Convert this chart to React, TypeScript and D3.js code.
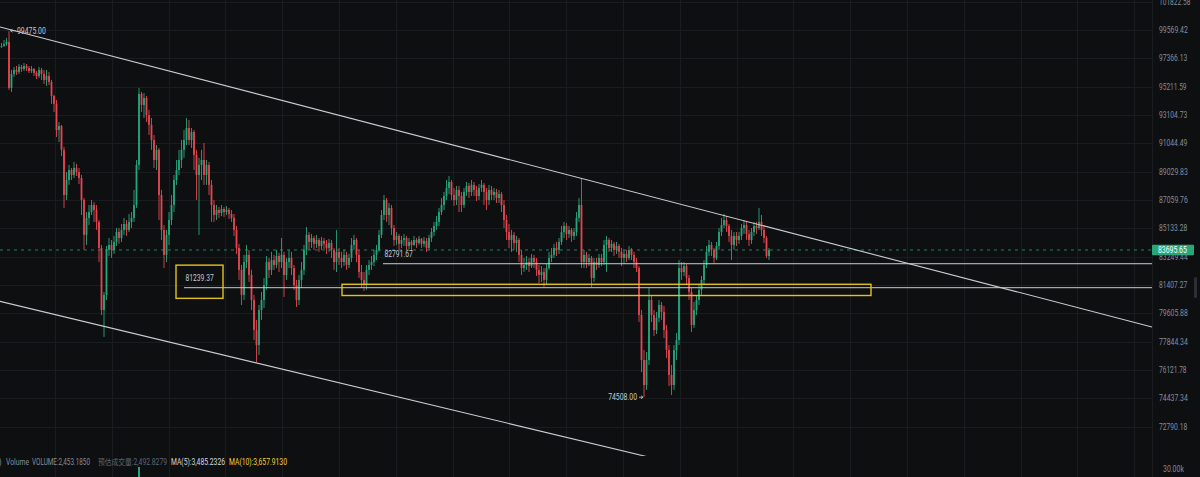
import React, { useEffect } from 'react';
import * as d3 from 'd3';

const W = 1200;
const H = 477;
const PLOT_RIGHT = 1152;
const PANE_BOTTOM = 456;

// ---- price data (open of each candle = previous close) ----
const firstOpen = 98250;
const closes = [
  98330, 98480, 98640, 95120, 96170, 96480, 96330, 96710, 96550, 96780,
  96630, 96400, 96550, 96250, 96020, 96480, 96170, 95720, 96020, 95570,
  94520, 93930, 92010, 92300, 90580, 87410, 88450, 89150, 88800, 89300,
  89010, 88590, 87060, 84700, 85840, 86240, 86720, 86380, 85570, 83830,
  79820, 80780, 83700, 84030, 83700, 84230, 84890, 84490, 85030, 85430,
  85030, 85570, 85840, 86720, 89510, 94670, 93850, 94370, 93110, 92380,
  91290, 89860, 90580, 87410, 85030, 83370, 84700, 85700, 86720, 88450,
  89150, 89860, 90580, 91290, 92160, 91290, 91870, 90220, 88800, 89510,
  89860, 88800, 89510, 88110, 86720, 86040, 86380, 86180, 86450, 86240,
  86380, 86110, 85840, 85030, 83830, 82390, 80780, 82900, 83370, 82060,
  80460, 78570, 77640, 79820, 80460, 81410, 82900, 82390, 83030, 82710,
  83300, 82900, 83370, 82060, 82900, 83170, 82510, 81410, 80460, 81740,
  82390, 83700, 84700, 84230, 84490, 84100, 84360, 83960, 84300, 84100,
  83830, 84160, 83700, 82900, 83570, 83170, 82900, 83370, 82710, 83170,
  84030, 84360, 83370, 82250, 81740, 81410, 82390, 82710, 82900, 83370,
  83700, 84700, 86040, 87060, 86040, 86520, 85160, 84360, 84630, 84100,
  84360, 84490, 83960, 84230, 84030, 84360, 84160, 84430, 84100, 84300,
  83830, 84490, 84890, 85300, 85570, 86240, 86720, 87340, 87900, 88310,
  87410, 87060, 87760, 87340, 86720, 87620, 88040, 87620, 88110, 87760,
  87340, 87900, 88110, 87620, 87060, 87760, 87410, 87620, 87200, 87480,
  86720, 85700, 84890, 84360, 84700, 84160, 84360, 83370, 82510, 82710,
  82900, 82640, 83170, 82900, 82390, 82060, 82250, 81740, 82510, 83170,
  83370, 83830, 83700, 84230, 84890, 85300, 84760, 85030, 84630, 84890,
  85840, 86720, 82900, 83370, 82900, 83170, 81870, 82900, 82710, 83170,
  82900, 84030, 84360, 83830, 84100, 83700, 83960, 83570, 83170, 83430,
  83170, 83700, 83370, 82900, 82510, 79510, 76730, 75230, 76730, 80460,
  79510, 78570, 79320, 80140, 79700, 78570, 77340, 75830, 75230, 77340,
  77950, 82510, 82250, 82640, 81870, 80970, 78880, 79820, 80460, 81100,
  81740, 82710, 83570, 84030, 83700, 83170, 83960, 84890, 85360, 85700,
  85300, 84630, 84030, 84630, 84360, 84630, 85160, 85360, 84760, 84360,
  84890, 85300, 85160, 85570, 85030, 84490, 83300, 83695.65,
];
const highs = [
  98560, 98790, 98950, 99475, 96480, 96710, 96780, 96930, 96860, 97010,
  96930, 96780, 96780, 96630, 96400, 96710, 96630, 96480, 96480, 96330,
  95720, 94600, 94220, 92590, 92380, 90790, 89010, 89510, 89290, 89720,
  89580, 89290, 88800, 87200, 86240, 86720, 87060, 86920, 86720, 85700,
  84030, 80970, 83960, 84490, 84360, 84630, 85160, 85160, 85430, 85840,
  85700, 86110, 86240, 87760, 89860, 95120, 94820, 94740, 94520, 93480,
  92890, 91650, 90930, 90720, 87760, 85360, 85030, 86240, 87410, 88800,
  89860, 90580, 91290, 92010, 92890, 92740, 92160, 92010, 90580, 90010,
  90580, 91070, 89860, 89720, 88450, 87060, 86720, 86580, 86720, 86580,
  86650, 86520, 86380, 86110, 85300, 84100, 82710, 83370, 84030, 83700,
  82390, 80780, 79200, 80140, 80970, 81870, 83300, 83170, 83570, 83370,
  83700, 83500, 84490, 83570, 83170, 83700, 83570, 82710, 81740, 82060,
  82900, 84030, 85230, 84890, 84760, 84630, 84700, 84490, 84560, 84490,
  84360, 84430, 84360, 83830, 85030, 83830, 83570, 83700, 83570, 83430,
  84490, 84700, 84490, 83700, 82710, 82250, 82710, 83030, 83300, 83700,
  84030, 85030, 86380, 87410, 87200, 86860, 86720, 85360, 84890, 84760,
  84630, 84760, 84630, 84490, 84360, 84630, 84490, 84630, 84490, 84560,
  84490, 84700, 85160, 85570, 85970, 86520, 87200, 87620, 88450, 88730,
  88450, 87900, 88040, 88040, 87620, 87900, 88310, 88240, 88450, 88310,
  88040, 88170, 88450, 88240, 87900, 88110, 88040, 87900, 87830, 87760,
  87620, 87060, 86040, 85430, 85030, 84890, 84630, 84490, 83700, 83170,
  83300, 83170, 83430, 83370, 83170, 82710, 82640, 82510, 82770, 83570,
  83830, 84100, 84230, 84490, 85300, 85570, 85500, 85300, 85160, 85160,
  86240, 87200, 88590, 83700, 83570, 83430, 83300, 83170, 83170, 83430,
  83430, 84360, 84630, 84490, 84360, 84230, 84230, 84100, 83830, 83700,
  83700, 83960, 83830, 83570, 83170, 82640, 79820, 77340, 77220, 81220,
  80710, 79820, 79700, 80460, 80330, 80080, 78880, 77640, 76430, 77640,
  78390, 83030, 82900, 82900, 82770, 82060, 81220, 80330, 80710, 81480,
  82000, 83030, 83960, 84360, 84230, 83830, 84230, 85160, 85840, 86110,
  85970, 85430, 85030, 84890, 84890, 84890, 85430, 85700, 85570, 85030,
  85160, 85570, 85570, 86520, 86040, 85300, 84630, 83830,
];
const lows = [
  98170, 98250, 98330, 94970, 94820, 95950, 96100, 96170, 96330, 96400,
  96400, 96250, 96250, 96020, 95790, 95870, 95720, 95420, 95270, 95340,
  93930, 93330, 91500, 91140, 90150, 86520, 87060, 88110, 88450, 88590,
  88730, 88170, 86040, 83700, 84030, 85360, 86040, 85570, 85030, 82900,
  79510, 78140, 80460, 83300, 83170, 83430, 83960, 84100, 84230, 84700,
  84630, 84890, 85160, 85570, 86520, 89150, 93330, 92890, 92600, 91650,
  90580, 89290, 89150, 85700, 84360, 82510, 82900, 84030, 85360, 86240,
  88110, 88800, 89290, 90010, 90930, 90930, 90720, 89150, 87060, 84700,
  88450, 88110, 88110, 87410, 85570, 85570, 85700, 85840, 85970, 85910,
  86040, 85770, 85570, 84630, 83430, 81740, 80140, 80460, 82510, 81610,
  79820, 77950, 76610, 77040, 79200, 79950, 81100, 81870, 82060, 82390,
  82510, 82250, 82510, 80650, 81740, 82510, 82060, 81100, 80010, 80140,
  81220, 82060, 83370, 83700, 83830, 83700, 83830, 83570, 83700, 83760,
  83430, 83570, 83170, 82390, 82250, 82710, 82510, 82640, 82390, 82510,
  82900, 83700, 82900, 81870, 81220, 81030, 81100, 82060, 82390, 82640,
  83030, 83570, 84490, 85700, 85570, 85360, 84700, 83960, 84030, 83700,
  83830, 83960, 83700, 83760, 83700, 83960, 83830, 84030, 83830, 83900,
  83570, 83700, 84230, 84630, 85030, 85300, 86040, 86380, 87060, 87480,
  87060, 86650, 86720, 86240, 86240, 86520, 87340, 87200, 87340, 87340,
  86990, 87060, 87620, 86720, 86380, 86720, 87060, 87060, 86860, 86860,
  86240, 85160, 84360, 83830, 83570, 83700, 83570, 82900, 82060, 82250,
  82390, 82250, 82510, 82510, 81990, 81540, 81610, 81290, 81410, 82390,
  82900, 83170, 83300, 83430, 84030, 84490, 84360, 84490, 84230, 84360,
  84630, 85570, 82510, 82510, 82510, 82640, 81290, 81610, 82390, 82510,
  82640, 82710, 82250, 83570, 83570, 83300, 83430, 83170, 82640, 82770,
  82900, 83030, 83030, 82510, 82250, 79070, 76000, 74508, 74940, 76430,
  79070, 78200, 78320, 79070, 79200, 78080, 76850, 75170, 74640, 74940,
  76730, 77640, 81740, 81990, 81410, 80460, 78450, 78700, 79510, 80140,
  80780, 81410, 82510, 83300, 83300, 82840, 83030, 83700, 84630, 85160,
  84890, 84230, 83030, 83700, 83960, 84100, 84360, 84760, 84360, 83960,
  84100, 84630, 84760, 85030, 84630, 84160, 83170, 83030,
];

// ---- volume (only the bar tall enough to show in the cropped pane) ----
const volumeBars = [{ index: 55, volume: 31200 }];
const volumeTick = 30000;

// ---- axis ----
const axisTicks = [
  101822.58, 99569.42, 97366.13, 95211.59, 93104.73, 91044.49, 89029.83, 87059.76,
  85133.28, 83249.44, 81407.27, 79605.88, 77844.34, 76121.78, 74437.34, 72790.18,
];

// ---- annotations ----
const lastPrice = 83695.65;
const peakMark = { index: 3, price: 99475.0, label: '99475.00' };
const troughMark = { index: 257, price: 74508.0, label: '74508.00' };
const horizontalLines = [
  { price: 82791.67, fromIndex: 152.6, label: '82791.67' },
  { price: 81239.37, fromIndex: 73.0, label: '81239.37' },
];
const trendLines = [
  { i1: -0.6, p1: 99802, i2: 460.2, p2: 78760 },
  { i1: -0.6, p1: 80365, i2: 258.6, p2: 71080 },
];
const yellowBoxes = [
  { i1: 136.2, i2: 347.8, pTop: 81460, pBottom: 80740 },
  { i1: 69.8, i2: 88.6, pTop: 82700, pBottom: 80560 },
];
const legendItems = [
  { text: ')', color: '#848e9c' },
  { text: 'Volume', color: '#848e9c' },
  { text: 'VOLUME:2,453.1850', color: '#848e9c' },
  { text: '预估成交量:2,492.8279', color: '#5e6673' },
  { text: 'MA(5):3,485.2326', color: '#d6d9de' },
  { text: 'MA(10):3,657.9130', color: '#f0d23c' },
];
const legendX = [-1, 6, 32, 98, 171, 229];
const legendW = [2.5, 23, 58, 69, 54, 58];

const GREEN = '#26a67a';
const RED = '#e5454f';
const BG = '#0e0f11';
const GRID = '#1a1c20';
const FONT = 'Roboto, "Noto Sans", "Noto Sans CJK SC", sans-serif';

// narrow numeric labels (the reference font is condensed)
const numW = (s: string) =>
  s.split('').reduce((a, ch) => a + (ch === '.' || ch === ',' ? 1.9 : ch === '1' ? 3.2 : ch === 'k' ? 3.6 : 3.85), 0);

export default function App() {
  useEffect(() => {
    document.body.style.margin = '0';
    document.body.style.background = BG;
  }, []);

  const n = closes.length;
  const x = d3.scaleLinear().domain([0, n - 1]).range([1.5, 1.5 + 2.5 * (n - 1)]);
  const y = d3.scaleLog().domain([99569.42, 72790.18]).range([30, 426.8]);
  const yVol = d3.scaleLinear().domain([0, volumeTick]).range([520, 469]);

  const opens = closes.map((_, i) => (i === 0 ? firstOpen : closes[i - 1]));
  const gridIdx = d3.range(21.4, 470, 22.72);

  const trendPath = d3.line<[number, number]>().x((d) => x(d[0])).y((d) => y(d[1]));

  const NumText = (p: { x: number; y: number; s: string; fill: string; anchor?: string }) => (
    <text
      x={p.x}
      y={p.y}
      fill={p.fill}
      fontSize={8.6}
      dominantBaseline="central"
      textAnchor={p.anchor || 'start'}
      textLength={numW(p.s)}
      lengthAdjust="spacingAndGlyphs"
    >
      {p.s}
    </text>
  );

  return (
    <div style={{ position: 'fixed', left: 0, top: 0, width: W, height: H, background: BG }}>
      <svg width={W} height={H} style={{ display: 'block', fontFamily: FONT }}>
        <defs>
          <clipPath id="pane">
            <rect x={0} y={0} width={PLOT_RIGHT} height={PANE_BOTTOM} />
          </clipPath>
        </defs>
        <rect width={W} height={H} fill={BG} />

        {/* grid */}
        {gridIdx.map((g, k) => (
          <line key={'vg' + k} x1={Math.round(x(g)) + 0.5} x2={Math.round(x(g)) + 0.5} y1={0} y2={H} stroke={GRID} />
        ))}
        {axisTicks.map((t, k) => (
          <line key={'hg' + k} x1={0} x2={PLOT_RIGHT} y1={Math.round(y(t)) + 0.5} y2={Math.round(y(t)) + 0.5} stroke={GRID} />
        ))}
        <line x1={PLOT_RIGHT + 0.5} x2={PLOT_RIGHT + 0.5} y1={0} y2={H} stroke={GRID} />

        <g clipPath="url(#pane)">
          {/* current price dashed line */}
          <line x1={0} x2={PLOT_RIGHT} y1={y(lastPrice)} y2={y(lastPrice)} stroke={GREEN} strokeWidth={1} strokeDasharray="3 4" opacity={0.75} />

          {/* candles */}
          {closes.map((c, i) => {
            const o = opens[i];
            const up = c >= o;
            const col = up ? GREEN : RED;
            const cx = x(i);
            const yo = y(o);
            const yc = y(c);
            const yh = Math.min(y(highs[i]), yo, yc);
            const yl = Math.max(y(lows[i]), yo, yc);
            const top = Math.min(yo, yc);
            const hgt = Math.max(1, Math.abs(yo - yc));
            return (
              <g key={'c' + i}>
                <line x1={cx} x2={cx} y1={yh} y2={yl} stroke={col} strokeWidth={0.9} />
                <rect x={cx - 0.9} y={top} width={1.8} height={hgt} fill={col} />
              </g>
            );
          })}

          {/* trend lines */}
          {trendLines.map((t, k) => (
            <path key={'t' + k} d={trendPath([[t.i1, t.p1], [t.i2, t.p2]]) || ''} stroke="#c9ccd1" strokeWidth={1.1} fill="none" />
          ))}

          {/* horizontal lines */}
          {horizontalLines.map((h, k) => (
            <g key={'h' + k}>
              <line x1={x(h.fromIndex)} x2={PLOT_RIGHT} y1={y(h.price)} y2={y(h.price)} stroke="#c9ccd1" strokeWidth={1} />
              <NumText x={x(h.fromIndex) + 1.5} y={y(h.price) - 9.5} s={h.label} fill="#c5c9d0" />
            </g>
          ))}

          {/* yellow boxes */}
          {yellowBoxes.map((b, k) => (
            <rect key={'y' + k} x={x(b.i1)} y={y(b.pTop)} width={x(b.i2) - x(b.i1)} height={y(b.pBottom) - y(b.pTop)} fill="none" stroke="#e3c21a" strokeWidth={1.4} />
          ))}

          {/* peak / trough markers */}
          <path
            d={`M${x(peakMark.index) + 1.5},${y(peakMark.price) - 0.5}h5 M${x(peakMark.index) + 1.5},${y(peakMark.price) - 0.5}l2,-1.5 M${x(peakMark.index) + 1.5},${y(peakMark.price) - 0.5}l2,1.5`}
            stroke="#c5c9d0"
            strokeWidth={0.8}
            fill="none"
          />
          <NumText x={x(peakMark.index) + 8} y={y(peakMark.price) - 0.5} s={peakMark.label} fill="#c5c9d0" />
          <path
            d={`M${x(troughMark.index) - 5},${y(troughMark.price)}h4 M${x(troughMark.index) - 1},${y(troughMark.price)}l-2,-1.5 M${x(troughMark.index) - 1},${y(troughMark.price)}l-2,1.5`}
            stroke="#c5c9d0"
            strokeWidth={0.8}
            fill="none"
          />
          <NumText x={x(troughMark.index) - 7} y={y(troughMark.price)} s={troughMark.label} fill="#c5c9d0" anchor="end" />
        </g>

        {/* volume */}
        {volumeBars.map((v, k) => (
          <rect key={'v' + k} x={x(v.index) - 1} y={yVol(v.volume)} width={2} height={H - yVol(v.volume)} fill={GREEN} />
        ))}

        {/* right axis */}
        {axisTicks.map((t, k) => (
          <NumText key={'a' + k} x={1159} y={y(t)} s={t.toFixed(2)} fill="#848e9c" />
        ))}
        <rect x={PLOT_RIGHT} y={y(lastPrice) - 5.3} width={42} height={10.6} fill={GREEN} rx={1} />
        <NumText x={1158} y={y(lastPrice)} s={lastPrice.toFixed(2)} fill="#ffffff" />
        <NumText x={1163} y={yVol(volumeTick)} s={(volumeTick / 1000).toFixed(2) + 'k'} fill="#848e9c" />
        <rect x={1194} y={277} width={3} height={21} fill="#2b2f36" rx={1.5} />

        {/* volume legend */}
        {legendItems.map((l, k) => (
          <text
            key={'l' + k}
            x={legendX[k]}
            y={462}
            fill={l.color}
            fontSize={8.4}
            dominantBaseline="central"
            textLength={legendW[k]}
            lengthAdjust="spacingAndGlyphs"
          >
            {l.text}
          </text>
        ))}
      </svg>
    </div>
  );
}
